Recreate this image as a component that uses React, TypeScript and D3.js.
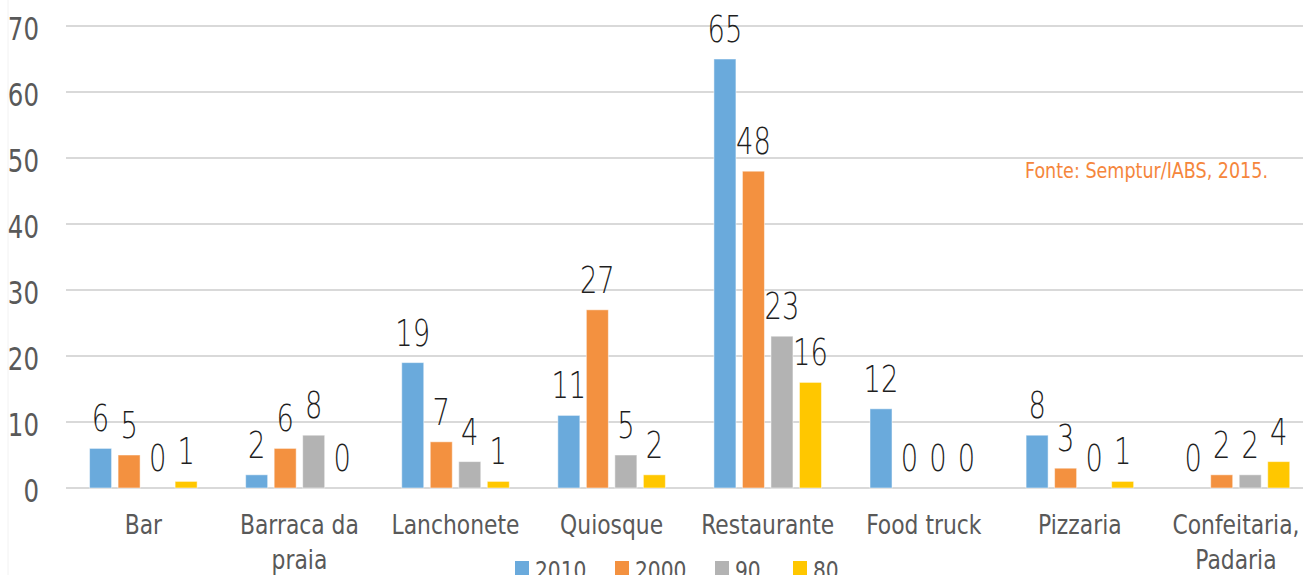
import React from "react";
import * as d3 from "d3";

const categories = [
  ["Bar"],
  ["Barraca da", "praia"],
  ["Lanchonete"],
  ["Quiosque"],
  ["Restaurante"],
  ["Food truck"],
  ["Pizzaria"],
  ["Confeitaria,", "Padaria"],
];
const seriesNames = ["2010", "2000", "90", "80"];
const s2010 = [6, 2, 19, 11, 65, 12, 8, 0];
const s2000 = [5, 6, 7, 27, 48, 0, 3, 2];
const s90 = [0, 8, 4, 5, 23, 0, 0, 2];
const s80 = [1, 0, 1, 2, 16, 0, 1, 4];
const seriesValues = [s2010, s2000, s90, s80];
const colors = ["#6aaadc", "#f39140", "#b3b3b3", "#ffc700"];
const yTicks = [0, 10, 20, 30, 40, 50, 60, 70];
const sourceNote = "Fonte: Semptur/IABS, 2015.";

const W = 1303;
const H = 575;
const AXIS_FONT = "'DejaVu Sans Condensed', 'DejaVu Sans', sans-serif";

export default function App() {
  const catKeys = categories.map((c) => c.join(" "));
  const x0 = d3.scaleBand<string>().domain(catKeys).range([65.3, 1314]).padding(0);
  const x1 = d3
    .scaleBand<string>()
    .domain(seriesNames)
    .range([0, x0.bandwidth()])
    .paddingInner(0.228)
    .paddingOuter(0.851);
  const y = d3.scaleLinear().domain([0, 70]).range([488, 26]);

  const legendStart = 515;
  let lx = legendStart;
  const legendItems = seriesNames.map((n, i) => {
    const item = { name: n, x: lx, color: colors[i] };
    lx += 14 + 6 + n.length * 11 + 36;
    return item;
  });

  return (
    <svg
      width={W}
      height={H}
      style={{ position: "absolute", left: 0, top: 0, display: "block", background: "#fff" }}
    >
      <line x1={8} x2={8} y1={0} y2={H} stroke="#f2f2f2" strokeWidth={1} />
      {yTicks.map((t) => (
        <g key={t}>
          <line x1={66} x2={W} y1={y(t)} y2={y(t)} stroke="#d9d9d9" strokeWidth={2} />
          <text
            transform={`translate(39,${y(t) + 3}) scale(0.85,1)`}
            textAnchor="end"
            dominantBaseline="central"
            fontFamily={AXIS_FONT}
            fontSize={32}
            fill="#595959"
          >
            {t}
          </text>
        </g>
      ))}
      {catKeys.map((ck, ci) => (
        <g key={ck} transform={`translate(${x0(ck)},0)`}>
          {seriesNames.map((sn, si) => {
            const v = seriesValues[si][ci];
            const bx = x1(sn)!;
            const bw = x1.bandwidth();
            return (
              <g key={sn}>
                {v > 0 && (
                  <rect
                    x={bx}
                    y={y(v)}
                    width={bw}
                    height={y(0) - y(v)}
                    fill={colors[si]}
                    stroke="#ffffff"
                    strokeOpacity={0.5}
                    strokeWidth={1}
                  />
                )}
                <text
                  transform={`translate(${bx + bw / 2},${y(v) - 17}) scale(0.72,1)`}
                  textAnchor="middle"
                  fontFamily="'DejaVu Sans', sans-serif"
                  fontSize={38}
                  fontWeight={200}
                  fill="#1f1f1f"
                >
                  {v}
                </text>
              </g>
            );
          })}
          {categories[ci].map((line, li) => (
            <text
              key={li}
              transform={`translate(${x0.bandwidth() / 2},${534 + li * 35}) scale(0.9,1)`}
              textAnchor="middle"
              fontFamily={AXIS_FONT}
              fontSize={27}
              fill="#595959"
            >
              {line}
            </text>
          ))}
        </g>
      ))}
      <text
        x={1025}
        y={178}
        fontFamily={AXIS_FONT}
        fontSize={22}
        fill="#f5863c"
        textLength={243}
        lengthAdjust="spacingAndGlyphs"
      >
        {sourceNote}
      </text>
      {legendItems.map((it) => (
        <g key={it.name}>
          <rect x={it.x} y={561} width={14} height={14} fill={it.color} />
          <text
            transform={`translate(${it.x + 20},579) scale(0.9,1)`}
            fontFamily={AXIS_FONT}
            fontSize={25}
            fill="#595959"
          >
            {it.name}
          </text>
        </g>
      ))}
    </svg>
  );
}
